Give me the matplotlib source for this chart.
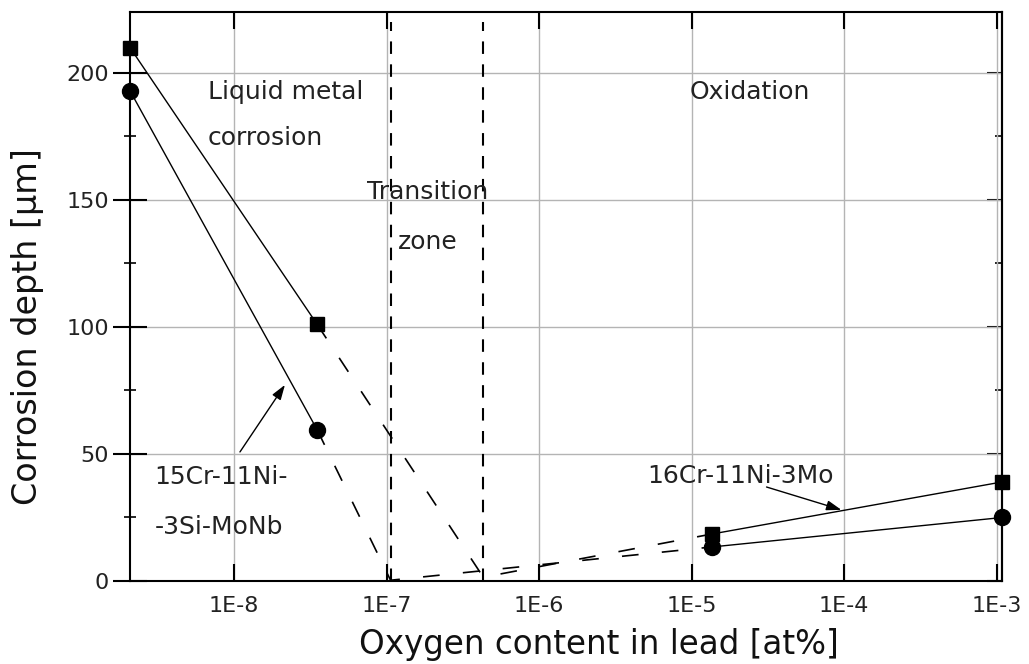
import matplotlib
matplotlib.use("Agg")
import matplotlib.pyplot as plt
from matplotlib.ticker import MultipleLocator, FixedLocator, NullLocator, NullFormatter

plt.rcParams['font.family'] = ['DejaVu Sans']

# Data (oxygen content [at%], corrosion depth [um])
sq_liquid_x = [2.07e-9, 3.5e-8]
sq_liquid_y = [210, 101]
sq_trans_x = [3.5e-8, 4.3e-7, 1.36e-5]
sq_trans_y = [101, 1.5, 18.5]
sq_oxid_x = [1.36e-5, 1.09e-3]
sq_oxid_y = [18.5, 39]

ci_liquid_x = [2.07e-9, 3.5e-8]
ci_liquid_y = [193, 59.5]
ci_trans_x = [3.5e-8, 1.06e-7, 1.36e-5]
ci_trans_y = [59.5, 0.3, 13.4]
ci_oxid_x = [1.36e-5, 1.09e-3]
ci_oxid_y = [13.4, 25]

zone_bounds = [1.06e-7, 4.26e-7]

xticks = [1e-8, 1e-7, 1e-6, 1e-5, 1e-4, 1e-3]
xticklabels = ["1E-8", "1E-7", "1E-6", "1E-5", "1E-4", "1E-3"]
yticks = [0, 50, 100, 150, 200]

fig = plt.figure(figsize=(10.29, 6.64), dpi=100)
ax = fig.add_axes([0.1263, 0.125, 0.974 - 0.1263, 0.982 - 0.125])
ax.set_xscale('log')
ax.set_xlim(2.07e-9, 1.09e-3)
ax.set_ylim(0, 224)

ax.grid(True, which='major', color='#b4b4b4', linewidth=1.0)
ax.set_axisbelow(True)

lw = 1.0
# solid segments
ax.plot(sq_liquid_x, sq_liquid_y, '-', color='black', lw=lw)
ax.plot(ci_liquid_x, ci_liquid_y, '-', color='black', lw=lw)
ax.plot(sq_oxid_x, sq_oxid_y, '-', color='black', lw=lw)
ax.plot(ci_oxid_x, ci_oxid_y, '-', color='black', lw=lw)
# dashed transition segments
ax.plot(sq_trans_x, sq_trans_y, color='black', lw=1.2, dashes=(10, 14), clip_on=False)
ax.plot(ci_trans_x, ci_trans_y, color='black', lw=1.2, dashes=(10, 14), clip_on=False)

# markers
ax.plot(sq_liquid_x + sq_oxid_x, sq_liquid_y + sq_oxid_y, 's', color='black', ms=10, clip_on=False, zorder=5)
ax.plot(ci_liquid_x + ci_oxid_x, ci_liquid_y + ci_oxid_y, 'o', color='black', ms=11.5, clip_on=False, zorder=5)

# transition zone boundaries
for xb in zone_bounds:
    ax.plot([xb, xb], [0, 220], color='black', lw=1.5, dashes=(6, 5))

# ticks
ax.xaxis.set_major_locator(FixedLocator(xticks))
ax.set_xticklabels(xticklabels)
ax.xaxis.set_minor_locator(NullLocator())
ax.yaxis.set_major_locator(FixedLocator(yticks))
ax.yaxis.set_minor_locator(MultipleLocator(25))
ax.tick_params(axis='x', which='major', direction='in', length=12, width=1.5,
               top=True, labelsize=16, pad=11, labelcolor='#222222')
ax.tick_params(axis='y', which='major', direction='inout', length=24, width=1.5,
               right=False, labelsize=16, pad=3, labelcolor='#222222')
ax.tick_params(axis='y', which='minor', direction='inout', length=8, width=1.2, right=False)

sec = ax.secondary_yaxis('right')
sec.yaxis.set_major_locator(FixedLocator(yticks))
sec.yaxis.set_minor_locator(MultipleLocator(25))
sec.yaxis.set_major_formatter(NullFormatter())
sec.tick_params(axis='y', which='major', direction='in', length=11, width=1.5)
sec.tick_params(axis='y', which='minor', direction='in', length=5, width=1.2)
sec.spines['right'].set_linewidth(1.5)

for sp in ax.spines.values():
    sp.set_linewidth(1.5)

ax.set_xlabel("Oxygen content in lead [at%]", fontsize=23.5, color='#111111')
ax.xaxis.set_label_coords(0.537, -0.083)
ax.set_ylabel("Corrosion depth [µm]", fontsize=24, color='#111111')
ax.yaxis.set_label_coords(-0.099, 0.448)

tfs = 18
tc = '#222222'
ax.text(6.7e-9, 192.5, "Liquid metal", fontsize=tfs, va='center', ha='left', color=tc)
ax.text(6.7e-9, 174.4, "corrosion", fontsize=tfs, va='center', ha='left', color=tc)
ax.text(7.4e-8, 153, "Transition", fontsize=tfs, va='center', ha='left', color=tc)
ax.text(1.18e-7, 133.5, "zone", fontsize=tfs, va='center', ha='left', color=tc)
ax.text(9.7e-6, 192.5, "Oxidation", fontsize=tfs, va='center', ha='left', color=tc)
ax.text(3.0e-9, 41, "15Cr-11Ni-", fontsize=tfs, va='center', ha='left', color=tc)
ax.text(3.0e-9, 21.3, "-3Si-MoNb", fontsize=tfs, va='center', ha='left', color=tc)
ax.text(5.1e-6, 41.3, "16Cr-11Ni-3Mo", fontsize=tfs, va='center', ha='left', color=tc)

arrowprops = dict(arrowstyle='-|>,head_length=0.9,head_width=0.3', color='black', lw=1.0,
                  shrinkA=0, shrinkB=0)
ax.annotate("", xy=(2.15e-8, 77.2), xytext=(1.09e-8, 50.8), arrowprops=arrowprops)
ax.annotate("", xy=(9.6e-5, 28), xytext=(3.1e-5, 37), arrowprops=arrowprops)

fig.savefig("out.png", dpi=100)
